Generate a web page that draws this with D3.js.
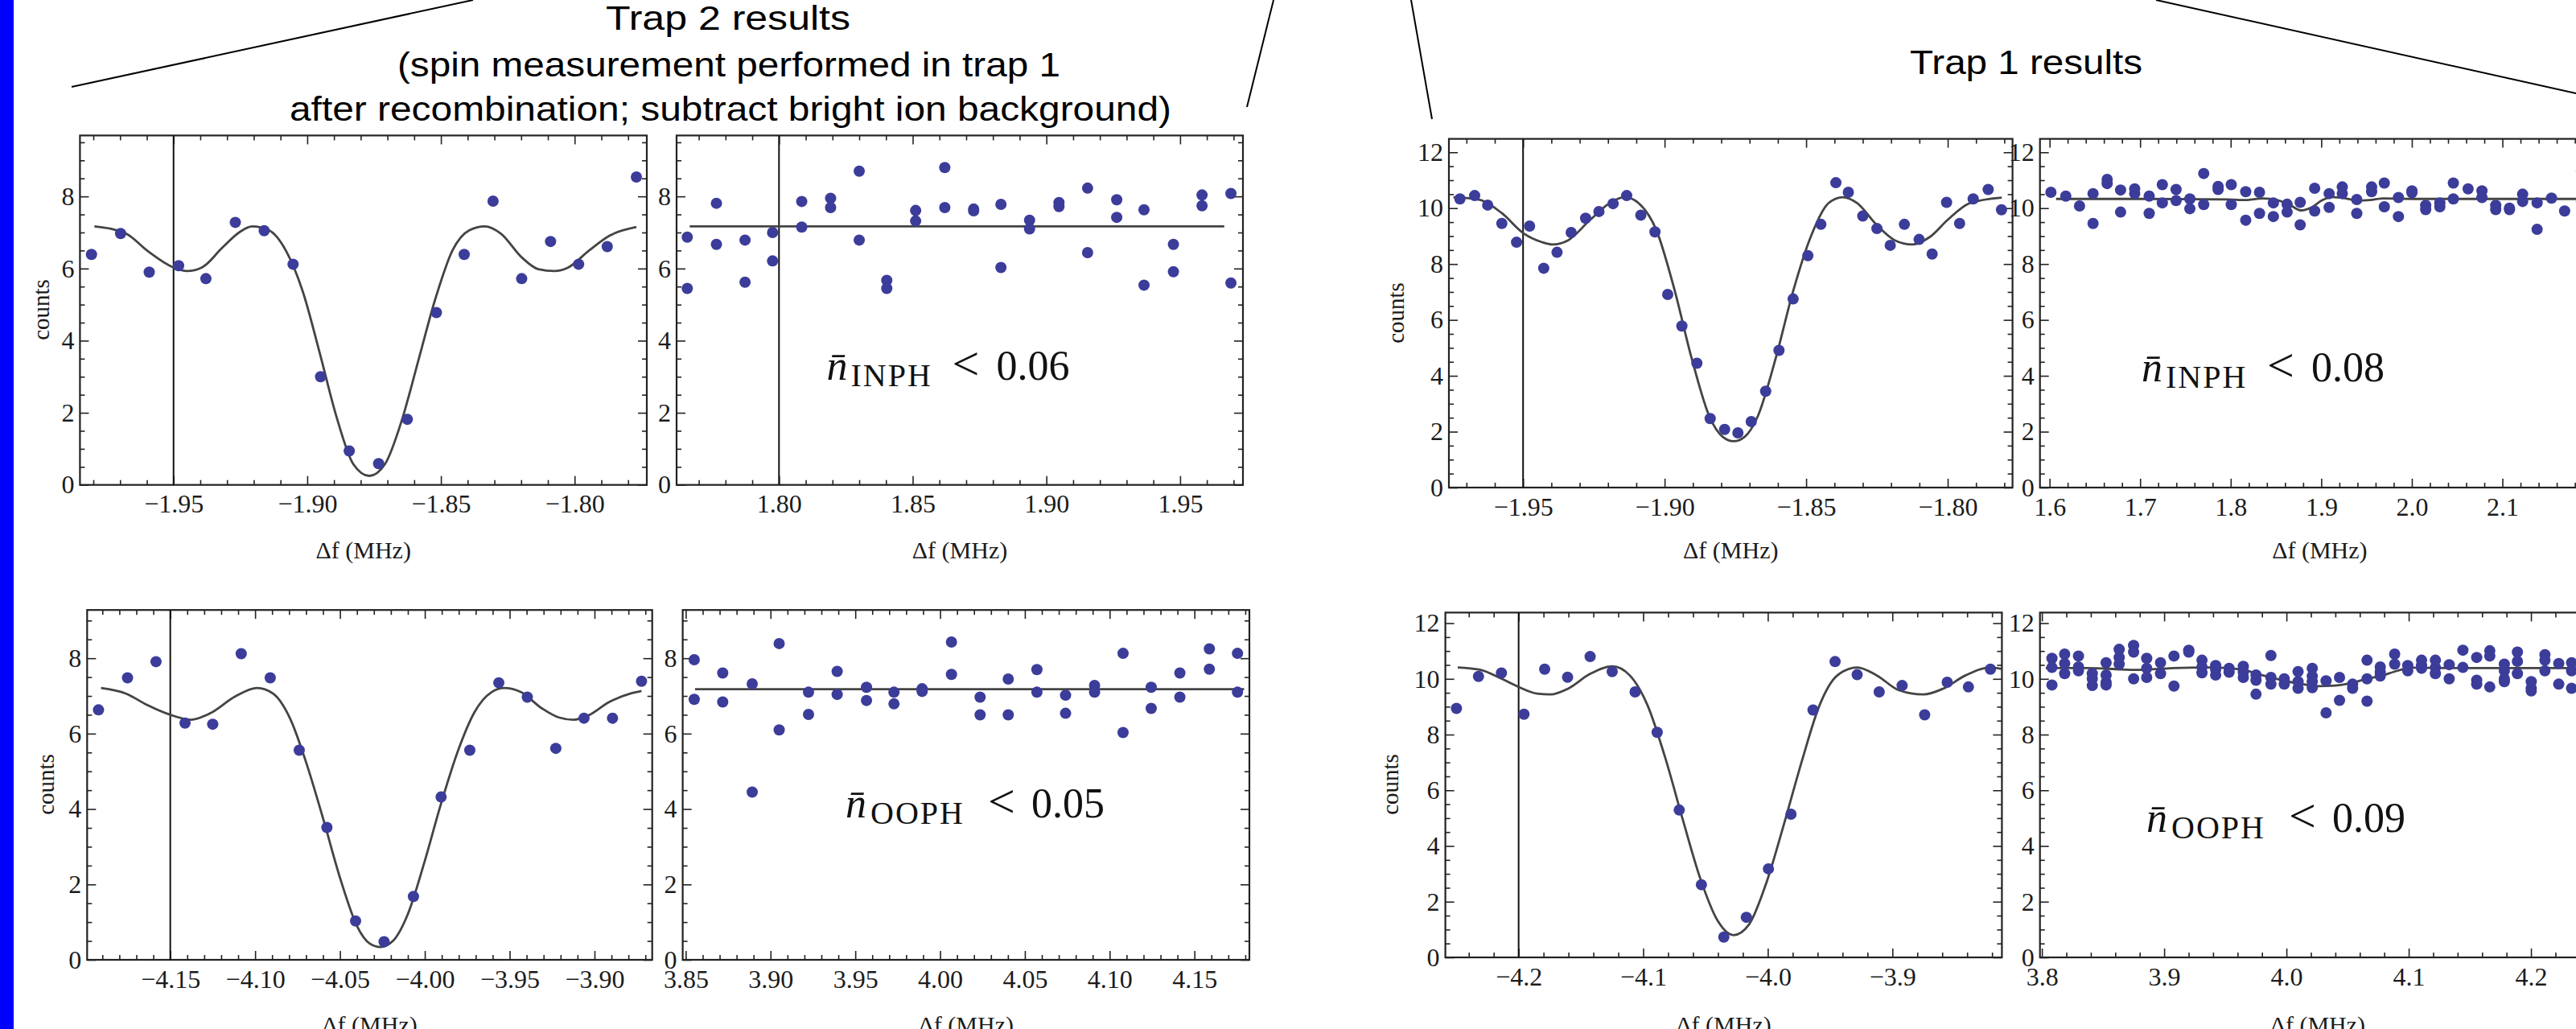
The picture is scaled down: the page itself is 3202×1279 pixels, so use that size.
<!DOCTYPE html>
<html>
<head>
<meta charset="utf-8">
<script src="https://cdn.jsdelivr.net/npm/d3@7"></script>
<style>
  body { margin: 0; background: #fff; }
</style>
</head>
<body>
<div id="chart"></div>
<script>
// ---------------- data ----------------
// tick values
const counts8Ticks = [0, 2, 4, 6, 8];
const counts12Ticks = [0, 2, 4, 6, 8, 10, 12];
const t2InphRedTicks = [-1.95, -1.90, -1.85, -1.80];
const t2InphBlueTicks = [1.80, 1.85, 1.90, 1.95];
const t1InphRedTicks = [-1.95, -1.90, -1.85, -1.80];
const t1InphBlueTicks = [1.6, 1.7, 1.8, 1.9, 2.0, 2.1, 2.2];
const t2OophRedTicks = [-4.15, -4.10, -4.05, -4.00, -3.95, -3.90];
const t2OophBlueTicks = [3.85, 3.90, 3.95, 4.00, 4.05, 4.10, 4.15];
const t1OophRedTicks = [-4.2, -4.1, -4.0, -3.9];
const t1OophBlueTicks = [3.8, 3.9, 4.0, 4.1, 4.2];

// trap 2, in-phase mode: red sideband scan
const t2InphRedX = [-1.9807, -1.9698, -1.9591, -1.9481, -1.9379, -1.9269, -1.9161, -1.9053, -1.8950, -1.8843,
  -1.8733, -1.8626, -1.8517, -1.8413, -1.8305, -1.8198, -1.8090, -1.7985, -1.7878, -1.7769];
const t2InphRedY = [6.39, 6.97, 5.90, 6.08, 5.72, 7.28, 7.05, 6.12, 3.00, 0.94,
  0.59, 1.82, 4.78, 6.39, 7.87, 5.72, 6.75, 6.12, 6.61, 8.54];
const t2InphRedFit = [[-1.9796, 7.17], [-1.9678, 6.97], [-1.9599, 6.50], [-1.9500, 6.03], [-1.9450, 5.93],
  [-1.9394, 6.03], [-1.9316, 6.59], [-1.9253, 7.01], [-1.9206, 7.17], [-1.9143, 7.06], [-1.9080, 6.50],
  [-1.9017, 5.37], [-1.8954, 3.68], [-1.8891, 1.90], [-1.8828, 0.58], [-1.8768, 0.25], [-1.8709, 0.58],
  [-1.8646, 1.80], [-1.8583, 3.49], [-1.8520, 5.18], [-1.8457, 6.50], [-1.8394, 7.06], [-1.8336, 7.17],
  [-1.8276, 6.97], [-1.8198, 6.31], [-1.8135, 5.98], [-1.8076, 5.93], [-1.8024, 6.03], [-1.7946, 6.50],
  [-1.7867, 6.92], [-1.7769, 7.15]];
const t2InphMarker = -1.95;

// trap 2, in-phase mode: blue sideband scan (two repeats per frequency)
const t2InphBlueX = [1.7657, 1.7766, 1.7873, 1.7976, 1.8085, 1.8193, 1.8300, 1.8403, 1.8511, 1.8620,
  1.8728, 1.8830, 1.8937, 1.9047, 1.9154, 1.9263, 1.9365, 1.9475, 1.9582, 1.9690];
const t2InphBlueY = [[6.87, 5.45], [7.81, 6.67], [6.79, 5.62], [7.00, 6.21], [7.86, 7.15], [7.95, 7.69],
  [8.70, 6.79], [5.67, 5.45], [7.61, 7.32], [8.80, 7.69], [7.65, 7.60], [7.78, 6.03], [7.34, 7.10],
  [7.83, 7.72], [8.23, 6.44], [7.91, 7.42], [7.63, 5.54], [6.67, 5.91], [8.04, 7.74], [8.08, 5.60]];
const t2InphBlueFit = [[1.7666, 7.17], [1.9665, 7.17]];
const t2InphBlueMarker = 1.80;

// trap 1, in-phase mode: red sideband scan
const t1InphRedX = [-1.9723, -1.9671, -1.9625, -1.9575, -1.9523, -1.9477, -1.9427, -1.9380, -1.9330, -1.9279,
  -1.9232, -1.9182, -1.9134, -1.9084, -1.9034, -1.8989, -1.8939, -1.8886, -1.8839, -1.8788,
  -1.8741, -1.8694, -1.8643, -1.8596, -1.8546, -1.8494, -1.8448, -1.8395, -1.8351, -1.8300,
  -1.8250, -1.8203, -1.8153, -1.8101, -1.8055, -1.8004, -1.7958, -1.7910, -1.7857, -1.7810];
const t1InphRedY = [10.33, 10.45, 10.11, 9.45, 8.78, 9.36, 7.85, 8.42, 9.13, 9.64,
  9.88, 10.16, 10.45, 9.75, 9.15, 6.91, 5.78, 4.45, 2.47, 2.08,
  1.96, 2.36, 3.45, 4.91, 6.75, 8.30, 9.42, 10.91, 10.57, 9.72,
  9.27, 8.67, 9.42, 8.88, 8.36, 10.21, 9.45, 10.33, 10.67, 9.94];
const t1InphRedFit = [[-1.9746, 10.39], [-1.9653, 10.30], [-1.9575, 9.82], [-1.9497, 9.09], [-1.9435, 8.79],
  [-1.9396, 8.70], [-1.9341, 8.85], [-1.9263, 9.58], [-1.9185, 10.24], [-1.9141, 10.39], [-1.9092, 10.18],
  [-1.9029, 9.21], [-1.8967, 7.15], [-1.8904, 4.61], [-1.8842, 2.55], [-1.8795, 1.82], [-1.8756, 1.66],
  [-1.8717, 1.82], [-1.8671, 2.55], [-1.8608, 4.61], [-1.8546, 7.03], [-1.8484, 8.97], [-1.8421, 10.18],
  [-1.8371, 10.39], [-1.8320, 10.18], [-1.8250, 9.39], [-1.8187, 8.85], [-1.8125, 8.70], [-1.8063, 8.97],
  [-1.8000, 9.58], [-1.7922, 10.18], [-1.7809, 10.38]];
const t1InphMarker = -1.95;

// trap 1, in-phase mode: blue sideband scan
const t1InphBlueX = [1.6015, 1.6179, 1.6331, 1.6480, 1.6636, 1.6784, 1.6940, 1.7100, 1.7245, 1.7397,
  1.7549, 1.7702, 1.7861, 1.8006, 1.8166, 1.8318, 1.8471, 1.8623, 1.8767, 1.8927,
  1.9087, 1.9232, 1.9392, 1.9556, 1.9696, 1.9852, 2.0001, 2.0153, 2.0309, 2.0458,
  2.0621, 2.0774, 2.0926, 2.1078, 2.1223, 2.1383, 2.1542, 2.1687, 2.1873];
const t1InphBlueY = [[10.57], [10.43], [10.08], [10.52, 9.45], [11.03, 10.88], [10.65, 9.86], [10.69, 10.52],
  [10.43, 9.81], [10.84, 10.19], [10.67, 10.27], [10.33, 9.98], [11.24, 10.13], [10.78, 10.67], [10.84, 10.13],
  [10.59, 9.57], [10.57, 9.81], [10.19, 9.70], [10.14, 9.86], [10.21, 9.40], [10.71, 9.90], [10.52, 10.03],
  [10.76, 10.52], [10.31, 9.81], [10.76, 10.59], [10.90, 10.05], [10.38, 9.70], [10.62, 10.55], [10.10, 9.95],
  [10.19, 10.05], [10.90, 10.33], [10.69], [10.62, 10.38], [10.10, 9.95], [10.00, 9.95], [10.50, 10.24],
  [10.19, 9.24], [10.36], [9.90], [11.33, 10.24]];
const t1InphBlueFit = [[1.6072, 10.33], [1.6986, 10.33], [1.7976, 10.31], [1.8166, 10.29], [1.8356, 10.35],
  [1.8509, 10.29], [1.8642, 10.14], [1.8775, 9.92], [1.8889, 10.02], [1.9003, 10.27], [1.9118, 10.40],
  [1.9270, 10.35], [1.9403, 10.27], [1.9536, 10.29], [1.9689, 10.35], [2.0031, 10.33], [2.2100, 10.33]];

// trap 2, out-of-phase mode: red sideband scan
const t2OophRedX = [-4.1923, -4.1752, -4.1584, -4.1413, -4.1250, -4.1082, -4.0911, -4.0740, -4.0577, -4.0408,
  -4.0240, -4.0067, -3.9904, -3.9735, -3.9564, -3.9396, -3.9228, -3.9062, -3.8894, -3.8723];
const t2OophRedY = [6.63, 7.48, 7.91, 6.28, 6.25, 8.12, 7.48, 5.56, 3.51, 1.03,
  0.48, 1.68, 4.32, 5.56, 7.35, 6.97, 5.61, 6.41, 6.41, 7.39];
const t2OophRedFit = [[-4.1908, 7.21], [-4.1760, 7.06], [-4.1636, 6.76], [-4.1500, 6.50], [-4.1376, 6.37],
  [-4.1265, 6.54], [-4.1116, 6.99], [-4.0988, 7.21], [-4.0894, 7.06], [-4.0795, 6.41], [-4.0696, 5.19],
  [-4.0597, 3.71], [-4.0498, 2.15], [-4.0399, 0.89], [-4.0324, 0.43], [-4.0262, 0.34], [-4.0188, 0.50],
  [-4.0102, 1.19], [-4.0003, 2.58], [-3.9904, 4.15], [-3.9805, 5.54], [-3.9706, 6.58], [-3.9607, 7.10],
  [-3.9532, 7.21], [-3.9433, 7.10], [-3.9310, 6.67], [-3.9211, 6.43], [-3.9124, 6.37], [-3.9037, 6.48],
  [-3.8913, 6.84], [-3.8790, 7.06], [-3.8723, 7.13]];
const t2OophMarker = -4.15;

// trap 2, out-of-phase mode: blue sideband scan
const t2OophBlueX = [3.8550, 3.8718, 3.8892, 3.9051, 3.9224, 3.9393, 3.9566, 3.9728, 3.9894, 4.0067,
  4.0236, 4.0402, 4.0571, 4.0740, 4.0911, 4.1079, 4.1245, 4.1414, 4.1588, 4.1754];
const t2OophBlueY = [[7.96, 6.91], [7.61, 6.84], [7.32, 4.45], [8.39, 6.10], [7.10, 6.51], [7.65, 7.04],
  [7.23, 6.88], [7.10, 6.79], [7.19, 7.12], [8.43, 7.57], [6.97, 6.50], [7.45, 6.50], [7.70, 7.10],
  [7.02, 6.54], [7.28, 7.10], [8.13, 6.03], [7.23, 6.67], [7.61, 6.97], [8.25, 7.71], [8.13, 7.10]];
const t2OophBlueFit = [[3.8555, 7.18], [4.1793, 7.18]];

// trap 1, out-of-phase mode: red sideband scan
const t1OophRedX = [-4.2499, -4.2322, -4.2138, -4.1957, -4.1791, -4.1607, -4.1426, -4.1249, -4.1065, -4.0888,
  -4.0711, -4.0533, -4.0353, -4.0172, -3.9995, -3.9814, -3.9637, -3.9460, -3.9283, -3.9106,
  -3.8922, -3.8741, -3.8560, -3.8390, -3.8213];
const t1OophRedY = [8.94, 10.09, 10.21, 8.73, 10.35, 10.06, 10.80, 10.26, 9.53, 8.08,
  5.29, 2.61, 0.73, 1.44, 3.18, 5.14, 8.88, 10.62, 10.15, 9.53,
  9.76, 8.71, 9.88, 9.71, 10.35];
const t1OophRedFit = [[-4.2489, 10.41], [-4.2312, 10.33], [-4.2135, 10.00], [-4.2000, 9.71], [-4.1851, 9.47],
  [-4.1745, 9.44], [-4.1603, 9.65], [-4.1426, 10.18], [-4.1249, 10.45], [-4.1107, 10.12], [-4.0966, 9.06],
  [-4.0824, 7.18], [-4.0682, 4.94], [-4.0541, 2.82], [-4.0399, 1.29], [-4.0275, 0.80], [-4.0151, 1.18],
  [-4.0009, 2.71], [-3.9868, 4.82], [-3.9726, 7.06], [-3.9584, 9.06], [-3.9443, 10.12], [-3.9283, 10.41],
  [-3.9124, 10.12], [-3.8947, 9.59], [-3.8752, 9.44], [-3.8592, 9.65], [-3.8415, 10.12], [-3.8213, 10.41],
  [-3.8124, 10.36]];
const t1OophMarker = -4.2;

// trap 1, out-of-phase mode: blue sideband scan
const t1OophBlueX = [3.8082, 3.8186, 3.8299, 3.8412, 3.8525, 3.8632, 3.8750, 3.8857, 3.8970, 3.9080,
  3.9201, 3.9309, 3.9421, 3.9531, 3.9647, 3.9751, 3.9873, 3.9982, 4.0095, 4.0211,
  4.0324, 4.0434, 4.0541, 4.0659, 4.0767, 4.0885, 4.0992, 4.1105, 4.1218, 4.1331,
  4.1443, 4.1556, 4.1663, 4.1782, 4.1889, 4.2002, 4.2114, 4.2227, 4.2332];
const t1OophBlueY = [[10.74, 10.41, 9.78], [10.89, 10.55, 10.19], [10.82, 10.43, 10.29], [10.19, 10.00, 9.76],
  [10.58, 10.14, 9.88, 9.78], [11.06, 10.77, 10.53], [11.20, 10.96, 10.00], [10.74, 10.38, 10.05],
  [10.58, 10.19], [10.82, 9.74], [11.03, 10.96], [10.67, 10.43, 10.22], [10.48, 10.34, 10.14],
  [10.38, 10.24], [10.45, 10.24, 10.05], [10.14, 9.95, 9.45], [10.84, 10.05, 9.81], [10.00, 9.81],
  [10.26, 9.90, 9.66], [10.38, 10.10, 9.90, 9.68], [9.93, 8.78], [10.05, 9.23], [9.81, 9.66],
  [10.67, 10.00, 9.20], [10.43, 10.24, 10.10], [10.89, 10.53], [10.48, 10.29], [10.67, 10.48, 10.38],
  [10.67, 10.41, 10.19], [10.51, 10.00], [11.03, 10.41], [10.77, 9.95, 9.81], [11.01, 10.82, 9.71],
  [10.53, 10.29, 10.00, 9.90], [10.96, 10.63, 10.19], [9.90, 9.66, 9.57], [10.87, 10.67, 10.29],
  [10.55, 9.81], [10.58, 10.29, 9.66]];
const t1OophBlueFit = [[3.8031, 10.39], [3.8369, 10.39], [3.8651, 10.34], [3.8792, 10.32], [3.9074, 10.39],
  [3.9356, 10.41], [3.9638, 10.34], [3.9751, 10.19], [3.9920, 10.00], [4.0090, 9.84], [4.0259, 9.74],
  [4.0400, 9.76], [4.0541, 9.86], [4.0654, 10.00], [4.0767, 10.10], [4.0908, 10.29], [4.1020, 10.40],
  [4.1331, 10.39], [4.2500, 10.39]];

// ---------------- layout ----------------
const W = 3202, H = 1279;
const serif = "'Liberation Serif', 'Times New Roman', serif";
const sans = "'Liberation Sans', Arial, sans-serif";
const dotColor = "#3c3c9a";

const pairs = (xs, ys) => d3.zip(xs, ys);
const columns = (xs, yss) => xs.flatMap((x, i) => yss[i].map(y => [x, y]));

const panels = [
  { left: 99.4, right: 804, top: 168.4, bottom: 602.7, xDomain: [-1.985, -1.773], yMax: 9.69,
    xTicks: t2InphRedTicks, xMinor: 0.01, yTicks: counts8Ticks, fmt: ".2f",
    pts: pairs(t2InphRedX, t2InphRedY), fit: t2InphRedFit, marker: t2InphMarker, yLabel: [51, 385], xLabelY: 694 },
  { left: 841, right: 1545, top: 168.4, bottom: 602.7, xDomain: [1.7617, 1.9735], yMax: 9.69,
    xTicks: t2InphBlueTicks, xMinor: 0.01, yTicks: counts8Ticks, fmt: ".2f",
    pts: columns(t2InphBlueX, t2InphBlueY), fit: t2InphBlueFit, marker: t2InphBlueMarker, xLabelY: 694 },
  { left: 1801, right: 2501.6, top: 172.6, bottom: 606, xDomain: [-1.9762, -1.7771], yMax: 12.48,
    xTicks: t1InphRedTicks, xMinor: 0.01, yTicks: counts12Ticks, fmt: ".2f",
    pts: pairs(t1InphRedX, t1InphRedY), fit: t1InphRedFit, marker: t1InphMarker, yLabel: [1735, 389], xLabelY: 694 },
  { left: 2535.7, right: 3231, top: 172.6, bottom: 606, xDomain: [1.5894, 2.207], yMax: 12.48,
    xTicks: t1InphBlueTicks, xMinor: 0.02, yTicks: counts12Ticks, fmt: ".1f",
    pts: columns(t1InphBlueX, t1InphBlueY), fit: t1InphBlueFit, xLabelY: 694 },
  { left: 108.3, right: 810.7, top: 758.2, bottom: 1193, xDomain: [-4.199, -3.866], yMax: 9.28,
    xTicks: t2OophRedTicks, xMinor: 0.01, yTicks: counts8Ticks, fmt: ".2f",
    pts: pairs(t2OophRedX, t2OophRedY), fit: t2OophRedFit, marker: t2OophMarker, yLabel: [57, 975], xLabelY: 1284 },
  { left: 848.6, right: 1553, top: 758.2, bottom: 1193, xDomain: [3.8482, 4.1824], yMax: 9.28,
    xTicks: t2OophBlueTicks, xMinor: 0.01, yTicks: counts8Ticks, fmt: ".2f",
    pts: columns(t2OophBlueX, t2OophBlueY), fit: t2OophBlueFit, xLabelY: 1284 },
  { left: 1796.6, right: 2488.4, top: 761.4, bottom: 1190, xDomain: [-4.2588, -3.8121], yMax: 12.38,
    xTicks: t1OophRedTicks, xMinor: 0.02, yTicks: counts12Ticks, fmt: ".1f",
    pts: pairs(t1OophRedX, t1OophRedY), fit: t1OophRedFit, marker: t1OophMarker, yLabel: [1728, 975], xLabelY: 1284 },
  { left: 2535.7, right: 3226, top: 761.4, bottom: 1190, xDomain: [3.7984, 4.2526], yMax: 12.38,
    xTicks: t1OophBlueTicks, xMinor: 0.02, yTicks: counts12Ticks, fmt: ".1f",
    pts: columns(t1OophBlueX, t1OophBlueY), fit: t1OophBlueFit, xLabelY: 1284 }
];

// phonon number bounds written inside the blue sideband panels
const bounds = [
  { x: 1027.5, y: 472, mode: "INPH", value: "0.06" },
  { x: 2662, y: 474, mode: "INPH", value: "0.08" },
  { x: 1051, y: 1016, mode: "OOPH", value: "0.05" },
  { x: 2668, y: 1034, mode: "OOPH", value: "0.09" }
];

const svg = d3.select("#chart").append("svg")
  .attr("width", W).attr("height", H)
  .style("display", "block");

svg.append("rect").attr("width", W).attr("height", H).attr("fill", "#fff");
// blue strip on the left edge
svg.append("rect").attr("x", 0).attr("y", 0).attr("width", 17).attr("height", H).attr("fill", "#0000ff");

// zoom-in guide lines
[[89, 108, 588, 0], [1550, 133, 1583, 0], [1754, 0, 1780, 148], [2680, 0, 3202, 116]].forEach(l => {
  svg.append("line").attr("x1", l[0]).attr("y1", l[1]).attr("x2", l[2]).attr("y2", l[3])
    .attr("stroke", "#000").attr("stroke-width", 2);
});

// titles
const titles = [
  { text: "Trap 2 results", x: 753, y: 37, len: 304 },
  { text: "(spin measurement performed in trap 1", x: 494, y: 95, len: 824 },
  { text: "after recombination; subtract bright ion background)", x: 360, y: 150, len: 1096 },
  { text: "Trap 1 results", x: 2374, y: 92, len: 289 }
];
titles.forEach(t => {
  svg.append("text").attr("x", t.x).attr("y", t.y)
    .attr("font-family", sans).attr("font-size", 42).attr("fill", "#000")
    .attr("textLength", t.len).attr("lengthAdjust", "spacingAndGlyphs")
    .text(t.text);
});

function stepValues(domain, step) {
  const i0 = Math.ceil(domain[0] / step - 1e-6), i1 = Math.floor(domain[1] / step + 1e-6);
  return d3.range(i0, i1 + 1).map(i => +(i * step).toFixed(4));
}

function addAxis(g, orient, scale, values, size, fmt, tx, ty, pad) {
  const axis = orient(scale).tickValues(values).tickSize(size).tickSizeOuter(0)
    .tickPadding(pad).tickFormat(fmt ? d3.format(fmt) : "");
  const a = g.append("g").attr("transform", `translate(${tx},${ty})`).call(axis);
  a.select(".domain").remove();
  a.selectAll(".tick line").attr("stroke", "#222").attr("stroke-width", 1.6);
  a.selectAll("text").attr("font-family", serif).attr("font-size", 32).attr("fill", "#1b1b1b");
}

panels.forEach(p => {
  const x = d3.scaleLinear().domain(p.xDomain).range([p.left, p.right]);
  const y = d3.scaleLinear().domain([0, p.yMax]).range([p.bottom, p.top]);
  const g = svg.append("g");

  const xMinor = stepValues(p.xDomain, p.xMinor).filter(v => !p.xTicks.some(t => Math.abs(t - v) < 1e-6));
  const yMinor = stepValues([0, p.yMax], 0.5).filter(v => v % 2 !== 0);

  addAxis(g, d3.axisBottom, x, p.xTicks, -11, p.fmt, 0, p.bottom, 12);
  addAxis(g, d3.axisBottom, x, xMinor, -6, null, 0, p.bottom, 12);
  addAxis(g, d3.axisTop, x, p.xTicks, -11, null, 0, p.top, 3);
  addAxis(g, d3.axisTop, x, xMinor, -6, null, 0, p.top, 3);
  addAxis(g, d3.axisLeft, y, p.yTicks, -11, "d", p.left, 0, 7);
  addAxis(g, d3.axisLeft, y, yMinor, -6, null, p.left, 0, 7);
  addAxis(g, d3.axisRight, y, p.yTicks, -11, null, p.right, 0, 3);
  addAxis(g, d3.axisRight, y, yMinor, -6, null, p.right, 0, 3);

  g.append("rect")
    .attr("x", p.left).attr("y", p.top)
    .attr("width", p.right - p.left).attr("height", p.bottom - p.top)
    .attr("fill", "none").attr("stroke", "#222").attr("stroke-width", 2.2);

  if (p.marker !== undefined) {
    g.append("line")
      .attr("x1", x(p.marker)).attr("x2", x(p.marker))
      .attr("y1", p.top).attr("y2", p.bottom)
      .attr("stroke", "#111").attr("stroke-width", 2);
  }

  const line = d3.line().x(d => x(d[0])).y(d => y(d[1])).curve(d3.curveMonotoneX);
  g.append("path").datum(p.fit)
    .attr("d", line)
    .attr("fill", "none").attr("stroke", "#444").attr("stroke-width", 2.8);

  g.selectAll("circle.pt").data(p.pts).enter()
    .append("circle").attr("class", "pt")
    .attr("cx", d => x(d[0])).attr("cy", d => y(d[1]))
    .attr("r", 7).attr("fill", dotColor);

  g.append("text")
    .attr("x", (p.left + p.right) / 2).attr("y", p.xLabelY)
    .attr("text-anchor", "middle")
    .attr("font-family", serif).attr("font-size", 30).attr("fill", "#1b1b1b")
    .text("\u0394f (MHz)");

  if (p.yLabel) {
    g.append("text")
      .attr("transform", `translate(${p.yLabel[0]},${p.yLabel[1]}) rotate(-90)`)
      .attr("text-anchor", "middle").attr("dy", "0.35em")
      .attr("font-family", serif).attr("font-size", 29).attr("fill", "#1b1b1b")
      .text("counts");
  }
});

bounds.forEach(b => {
  const offs = b.mode === "INPH" ? [30, 156, 211] : [31, 177, 231];
  const t = svg.append("text").attr("font-family", serif).attr("fill", "#111");
  t.append("tspan").attr("x", b.x).attr("y", b.y).attr("font-size", 52).attr("font-style", "italic").text("n\u0304");
  t.append("tspan").attr("x", b.x + offs[0]).attr("y", b.y + 8).attr("font-size", 40)
    .attr("letter-spacing", 2).text(b.mode);
  t.append("tspan").attr("x", b.x + offs[1]).attr("y", b.y).attr("font-size", 60).text("<");
  t.append("tspan").attr("x", b.x + offs[2]).attr("y", b.y).attr("font-size", 52).text(b.value);
});
</script>
</body>
</html>
